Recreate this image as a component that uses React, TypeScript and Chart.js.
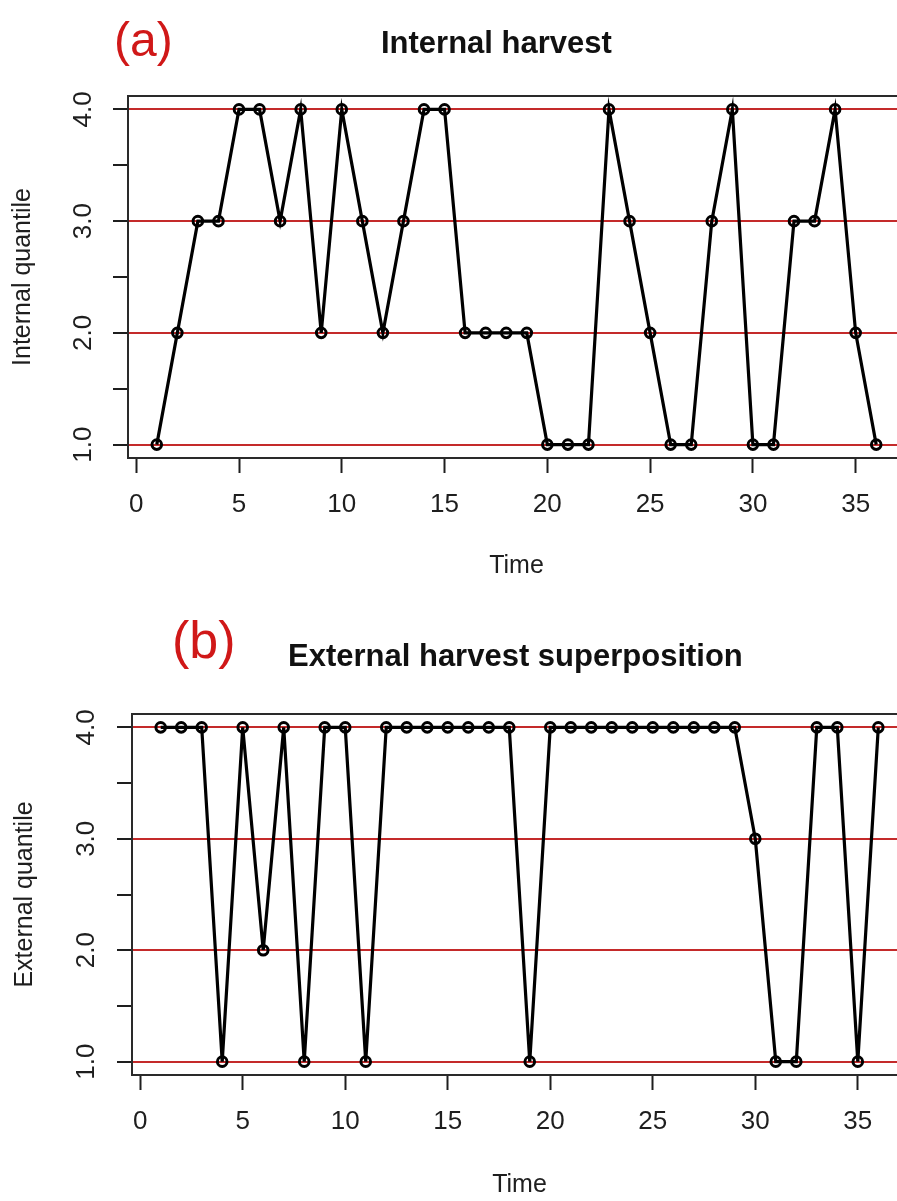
import React, { useEffect, useRef } from "react";
import { Chart, registerables } from "chart.js";

Chart.register(...registerables);

// ---- data ----
const timeSteps = [1, 2, 3, 4, 5, 6, 7, 8, 9, 10, 11, 12, 13, 14, 15, 16, 17, 18, 19, 20, 21, 22, 23, 24, 25, 26, 27, 28, 29, 30, 31, 32, 33, 34, 35, 36];
const internalQuantile = [1, 2, 3, 3, 4, 4, 3, 4, 2, 4, 3, 2, 3, 4, 4, 2, 2, 2, 2, 1, 1, 1, 4, 3, 2, 1, 1, 3, 4, 1, 1, 3, 3, 4, 2, 1];
const externalQuantile = [4, 4, 4, 1, 4, 2, 4, 1, 4, 4, 1, 4, 4, 4, 4, 4, 4, 4, 1, 4, 4, 4, 4, 4, 4, 4, 4, 4, 4, 3, 1, 1, 4, 4, 1, 4];
const xTickValues = [0, 5, 10, 15, 20, 25, 30, 35];
const yTickValues = [1, 1.5, 2, 2.5, 3, 3.5, 4];
const yLabelValues = [1, 2, 3, 4];
const referenceLevels = [1, 2, 3, 4];
const xRange = [-0.4, 37.4];
const yRange = [0.88, 4.12];

const FONT = '"Liberation Sans", Arial, Helvetica, sans-serif';
const INK = "#1e1e1e";
const RED_LINE = "#c42a2a";

const rAxesPlugin = {
  id: "rAxes",
  afterDraw(chart: any) {
    const { ctx, chartArea } = chart;
    const yScale = chart.scales.y;
    ctx.save();
    ctx.strokeStyle = "#2a2a2a";
    ctx.lineWidth = 2;
    ctx.strokeRect(
      chartArea.left,
      chartArea.top,
      chartArea.right - chartArea.left,
      chartArea.bottom - chartArea.top
    );
    ctx.fillStyle = INK;
    ctx.font = `26px ${FONT}`;
    ctx.textAlign = "center";
    ctx.textBaseline = "middle";
    const off = chart.options.plugins.rAxes?.labelOffset ?? 44;
    for (const v of yLabelValues) {
      const py = yScale.getPixelForValue(v);
      ctx.save();
      ctx.translate(chartArea.left - off, py);
      ctx.rotate(-Math.PI / 2);
      ctx.fillText(v.toFixed(1), 0, 0);
      ctx.restore();
    }
    ctx.restore();
  },
};

type PanelProps = {
  values: number[];
  yTitle: string;
  top: number;
  height: number;
  areaTop: number;
  areaBottom: number;
  areaLeft: number;
  areaRight: number;
  yTitlePad: number;
  xTitlePad: number;
  labelOffset: number;
};

const CANVAS_W = 920;

function Panel(p: PanelProps) {
  const ref = useRef<HTMLCanvasElement | null>(null);
  useEffect(() => {
    if (!ref.current) return;
    const points = timeSteps.map((t, i) => ({ x: t, y: p.values[i] }));
    const chart = new Chart(ref.current, {
      type: "line",
      data: {
        datasets: [
          {
            data: points,
            borderColor: "#000",
            borderWidth: 3.2,
            pointRadius: 4.8,
            pointBorderWidth: 3,
            pointBorderColor: "#000",
            pointBackgroundColor: "rgba(0,0,0,0)",
            tension: 0,
            fill: false,
          },
        ],
      },
      options: {
        animation: false,
        responsive: false,
        maintainAspectRatio: false,
        events: [],
        layout: {
          padding: {
            top: p.areaTop,
            left: 0,
            right: CANVAS_W - p.areaRight,
            bottom: 0,
          },
        },
        plugins: {
          legend: { display: false },
          tooltip: { enabled: false },
          title: { display: false },
          rAxes: { labelOffset: p.labelOffset },
        } as any,
        scales: {
          x: {
            type: "linear",
            min: xRange[0],
            max: xRange[1],
            afterBuildTicks: (scale: any) => {
              scale.ticks = xTickValues.map((v) => ({ value: v }));
            },
            afterFit: (scale: any) => {
              scale.height = p.height - p.areaBottom;
            },
            ticks: {
              font: { family: FONT, size: 26 },
              color: INK,
              padding: 16,
              maxRotation: 0,
              minRotation: 0,
              callback: (v: any) => String(v),
            },
            grid: {
              drawOnChartArea: false,
              drawTicks: true,
              tickLength: 15,
              tickColor: INK,
              tickWidth: 2,
            },
            border: { display: false },
            title: {
              display: true,
              text: "Time",
              color: INK,
              font: { family: FONT, size: 25 },
              padding: { top: 0, bottom: p.xTitlePad },
            },
          },
          y: {
            type: "linear",
            min: yRange[0],
            max: yRange[1],
            afterBuildTicks: (scale: any) => {
              scale.ticks = yTickValues.map((v) => ({ value: v }));
            },
            afterFit: (scale: any) => {
              scale.width = p.areaLeft;
            },
            ticks: { display: false },
            grid: {
              drawOnChartArea: true,
              drawTicks: true,
              tickLength: 15,
              tickColor: INK,
              tickWidth: 2,
              lineWidth: 2,
              color: (ctx: any) =>
                ctx.tick && referenceLevels.includes(ctx.tick.value)
                  ? RED_LINE
                  : "rgba(0,0,0,0)",
            },
            border: { display: false },
            title: {
              display: true,
              text: p.yTitle,
              color: INK,
              font: { family: FONT, size: 25 },
              padding: { top: p.yTitlePad, bottom: 0 },
            },
          },
        },
      },
      plugins: [rAxesPlugin],
    });
    return () => chart.destroy();
  }, []);
  return (
    <canvas
      ref={ref}
      width={CANVAS_W}
      height={p.height}
      style={{
        position: "absolute",
        left: 0,
        top: p.top,
        width: CANVAS_W,
        height: p.height,
        display: "block",
      }}
    />
  );
}

const labelStyle: React.CSSProperties = {
  position: "absolute",
  fontFamily: FONT,
  lineHeight: 1,
  whiteSpace: "nowrap",
  margin: 0,
};

export default function App() {
  return (
    <div
      style={{
        position: "absolute",
        left: 0,
        top: 0,
        width: 897,
        height: 1201,
        overflow: "hidden",
        background: "#fff",
      }}
    >
      <Panel
        values={internalQuantile}
        yTitle="Internal quantile"
        top={0}
        height={600}
        areaTop={96}
        areaBottom={458}
        areaLeft={128}
        areaRight={905}
        yTitlePad={8}
        xTitlePad={19}
        labelOffset={44}
      />
      <Panel
        values={externalQuantile}
        yTitle="External quantile"
        top={600}
        height={601}
        areaTop={114}
        areaBottom={475}
        areaLeft={132}
        areaRight={907}
        yTitlePad={10}
        xTitlePad={1}
        labelOffset={45}
      />
      <div style={{ ...labelStyle, left: 114, top: 16, fontSize: 48, color: "#d01818" }}>(a)</div>
      <div style={{ ...labelStyle, left: 381, top: 27, fontSize: 31, fontWeight: "bold", color: "#111" }}>
        Internal harvest
      </div>
      <div style={{ ...labelStyle, left: 172, top: 614, fontSize: 52, color: "#d01818" }}>(b)</div>
      <div style={{ ...labelStyle, left: 288, top: 640, fontSize: 31, fontWeight: "bold", color: "#111" }}>
        External harvest superposition
      </div>
    </div>
  );
}
